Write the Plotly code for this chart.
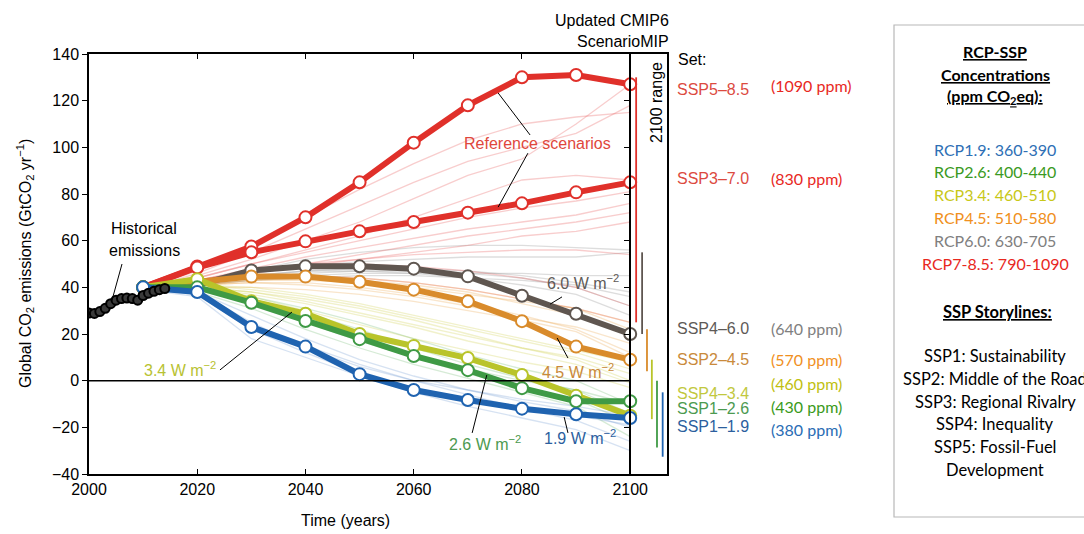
import plotly.graph_objects as go

# ---------------- data ----------------
hist_years = list(range(2000, 2015))
hist_vals = [29.0, 28.8, 29.6, 31.0, 33.0, 34.5, 35.2, 35.4, 35.2, 34.5, 36.5, 37.5, 38.3, 39.0, 39.5]

years = [2010, 2020, 2030, 2040, 2050, 2060, 2070, 2080, 2090, 2100]
ssp585 = [40, 48.9, 57.5, 70, 85, 102, 118, 130, 131, 127]
ssp370 = [40, 48.5, 55, 59.7, 64, 68, 72, 76, 80.7, 85]
ssp460 = [40, 41, 47.2, 49, 49, 48, 44.7, 36.4, 28.7, 20]
ssp245 = [40, 42.5, 44.6, 44.6, 42.4, 39, 34, 25.5, 14.6, 9]
ssp434 = [40, 43.5, 34, 28.7, 20, 14.9, 9.7, 2.4, -6.5, -15]
ssp126 = [40, 40, 33.4, 25.6, 17.8, 10.6, 4.5, -3.2, -8.8, -8.8]
ssp119 = [40, 38, 23, 14.6, 2.8, -4, -8.3, -12, -14.4, -16]

faint_years = [2010, 2020, 2030, 2040, 2050, 2060, 2070, 2080, 2090, 2100]
faint_red = [
    [39, 47, 58, 70, 82, 93, 103, 110, 113, 115],
    [39, 46, 55, 65, 75, 85, 94, 100, 106, 118],
    [39, 45, 52, 60, 68, 78, 88, 95, 110, 127],
    [39, 44, 50, 56, 62, 70, 78, 86, 88, 86],
    [39, 44, 50, 55, 60, 65, 70, 74, 77, 81],
    [39, 43, 48, 53, 57, 61, 65, 68, 71, 76],
    [39, 43, 47, 50, 54, 58, 62, 65, 68, 72],
    [39, 42, 46, 49, 52, 55, 58, 62, 64, 68],
    [39, 43, 47, 50, 52, 54, 55, 56, 56, 54],
    [39, 43, 47, 50, 50, 49, 47, 44, 40, 32],
    [39, 42, 44, 45, 44, 42, 39, 35, 31, 25],
]
faint_gray = [
    [39, 42, 45, 47, 48, 48, 47, 45, 42, 38],
    [39, 41, 44, 46, 47, 47, 46, 44, 40, 32],
    [39, 42, 46, 49, 51, 52, 53, 53, 53, 55],
    [39, 41, 43, 44, 45, 45, 44, 43, 41, 36],
    [39, 42, 45, 47, 47, 46, 44, 41, 37, 28],
    [39, 41, 43, 45, 46, 46, 46, 46, 45, 45],
    [39, 42, 47, 52, 55, 57, 58, 58, 57, 56],
]
faint_orange = [
    [39, 41, 43, 44, 43, 41, 38, 33, 28, 20],
    [39, 41, 42, 42, 40, 37, 33, 28, 22, 12],
    [39, 41, 42, 41, 39, 36, 32, 27, 23, 16],
    [39, 42, 44, 45, 44, 42, 39, 35, 31, 22],
    [39, 40, 40, 39, 37, 34, 30, 26, 21, 10],
    [39, 41, 43, 43, 42, 40, 37, 34, 31, 25],
]
faint_yellow = [
    [39, 40, 38, 34, 29, 24, 19, 14, 10, 3],
    [39, 40, 37, 33, 28, 23, 17, 12, 7, -1],
    [39, 41, 39, 36, 32, 27, 22, 17, 12, 5],
    [39, 40, 36, 30, 24, 18, 13, 8, 4, -3],
    [39, 40, 38, 35, 31, 26, 20, 14, 9, 0],
    [39, 41, 40, 37, 33, 28, 23, 18, 13, 8],
]
faint_green = [
    [39, 39, 34, 27, 19, 11, 5, 0, -4, -10],
    [39, 40, 35, 29, 22, 14, 7, 1, -4, -14],
    [39, 39, 33, 25, 17, 10, 3, -3, -8, -18],
    [39, 40, 36, 31, 25, 18, 11, 5, 0, -10],
    [39, 38, 31, 22, 14, 7, 1, -5, -11, -24],
]
faint_blue = [
    [39, 38, 25, 14, 6, 0, -4, -8, -11, -15],
    [39, 37, 22, 12, 3, -3, -8, -12, -15, -19],
    [39, 38, 28, 18, 9, 2, -4, -9, -13, -20],
    [39, 36, 18, 10, 2, -5, -11, -16, -21, -30],
    [39, 38, 24, 15, 7, 0, -6, -12, -17, -26],
]

# 2100 ranges per family: (x position year, low, high)
range_x = [2101.1, 2102.2, 2103.1, 2104.0, 2104.95, 2106.0]
range_lo = [25, 20, 4, -16.5, -28.6, -32.6]
range_hi = [130, 55, 22, 9, 0, -5]
range_col = ["#e0302a", "#5f5650", "#d98b2b", "#b9c42a", "#3f9a45", "#1f63b0"]

ssp_names = ["SSP5\u20138.5", "SSP3\u20137.0", "SSP4\u20136.0", "SSP2\u20134.5", "SSP4\u20133.4", "SSP1\u20132.6", "SSP1\u20131.9"]
ssp_label_y = [89, 178, 328, 359, 393, 408, 426]
ssp_label_col = ["#dc4a3f", "#dc4a3f", "#5e5a57", "#c98a3b", "#c2c83e", "#4c9a50", "#2c5f9e"]
ppm_labels = ["(1090 ppm)", "(830 ppm)", "(640 ppm)", "(570 ppm)", "(460 ppm)", "(430 ppm)", "(380 ppm)"]
ppm_label_y = [86, 178, 328, 359, 383, 406, 429]
ppm_col = ["#e8281e", "#e8281e", "#808080", "#f0901e", "#c0c010", "#3a9a1a", "#2a6db5"]

rcp_lines = ["RCP1.9: 360-390", "RCP2.6: 400-440", "RCP3.4: 460-510", "RCP4.5: 510-580", "RCP6.0: 630-705", "RCP7-8.5: 790-1090"]
rcp_cols = ["#2e6fb5", "#3a9a22", "#c8c818", "#f09020", "#808080", "#e8281e"]
story_lines = ["SSP1: Sustainability", "SSP2: Middle of the Road", "SSP3: Regional Rivalry",
               "SSP4: Inequality", "SSP5: Fossil-Fuel", "Development"]

# ---------------- geometry helpers ----------------
W, H = 1084, 534
ML, MR, MT, MB = 89, 417, 54, 60
PW, PH = W - ML - MR, H - MT - MB


def px(x):
    return (x - ML) / PW


def py(y):
    return (H - MB - y) / PH


AX = "Liberation Sans, Arial, sans-serif"
CAL = "Lato, Carlito, Calibri, sans-serif"

fig = go.Figure()

faint_sets = [
    (faint_gray, "rgba(150,150,150,0.32)"),
    (faint_red, "rgba(232,100,100,0.32)"),
    (faint_orange, "rgba(235,160,70,0.28)"),
    (faint_yellow, "rgba(205,205,70,0.28)"),
    (faint_green, "rgba(90,175,90,0.25)"),
    (faint_blue, "rgba(90,140,205,0.25)"),
]
for group, col in faint_sets:
    for vals in group:
        fig.add_trace(go.Scatter(x=faint_years, y=vals, mode="lines",
                                 line=dict(color=col, width=1.3), hoverinfo="skip"))

main = [
    (ssp585, "#e0302a"),
    (ssp370, "#e0302a"),
    (ssp460, "#5f5650"),
    (ssp245, "#d98b2b"),
    (ssp434, "#b9c42a"),
    (ssp126, "#3f9a45"),
    (ssp119, "#1f63b0"),
]
for vals, col in main:
    fig.add_trace(go.Scatter(x=years, y=vals, mode="lines+markers",
                             line=dict(color=col, width=6),
                             marker=dict(size=12, color="white", line=dict(color=col, width=2)),
                             hoverinfo="skip"))

fig.add_trace(go.Scatter(x=hist_years, y=hist_vals, mode="lines+markers",
                         line=dict(color="black", width=6),
                         marker=dict(size=9, color="#3a3a3a", line=dict(color="black", width=2)),
                         hoverinfo="skip"))

# dummy trace to activate axis at 2100
fig.add_trace(go.Scatter(x=[2000], y=[0], yaxis="y2", mode="markers",
                         marker=dict(opacity=0), hoverinfo="skip"))

shapes = []
# zero line
shapes.append(dict(type="line", xref="x", yref="y", x0=2000, x1=2100, y0=0, y1=0,
                   line=dict(color="black", width=1.5)))
for xr, lo, hi, c in zip(range_x, range_lo, range_hi, range_col):
    shapes.append(dict(type="line", xref="x", yref="y", x0=xr, x1=xr, y0=lo, y1=hi,
                       line=dict(color=c, width=1.8)))

# callout lines (data coordinates)
callouts = [
    (2075.6, 123.3, 2081.5, 105.3, "black"),
    (2081.1, 97.5, 2075.6, 74.4, "black"),
    (2006.1, 50.0, 2004.25, 34.5, "black"),
    (2087.4, 35.9, 2085.2, 32.8, "black"),
    (2088.5, 9.7, 2086.5, 18.3, "black"),
    (2024.2, 4.6, 2037.5, 29.4, "black"),
    (2070.8, -22.4, 2073.5, 2.4, "black"),
    (2088.5, -22.4, 2087.8, -15.6, "black"),
]
for x0, y0, x1, y1, c in callouts:
    shapes.append(dict(type="line", xref="x", yref="y", x0=x0, y0=y0, x1=x1, y1=y1,
                       line=dict(color=c, width=1)))

# right box
shapes.append(dict(type="rect", xref="paper", yref="paper", x0=px(894), x1=px(1100),
                   y0=py(517), y1=py(25), line=dict(color="#b8b8b8", width=1.2)))

ann = []


def add_text(text, x, y, size=16, color="black", font=AX, xanchor="center", yanchor="middle",
             ref="paper", angle=0):
    if ref == "paper":
        ann.append(dict(text=text, x=px(x), y=py(y), xref="paper", yref="paper", showarrow=False,
                        font=dict(size=size, color=color, family=font), xanchor=xanchor,
                        yanchor=yanchor, textangle=angle))
    else:
        ann.append(dict(text=text, x=x, y=y, xref="x", yref="y", showarrow=False,
                        font=dict(size=size, color=color, family=font), xanchor=xanchor,
                        yanchor=yanchor, textangle=angle))


add_text("Updated CMIP6", 671, 20, size=16, xanchor="right")
add_text("ScenarioMIP", 671, 41, size=16, xanchor="right")
add_text("2100 range", 656, 103, size=16, angle=-90)
add_text("Set:", 676, 60, size=16, xanchor="left")

for name, yy, c in zip(ssp_names, ssp_label_y, ssp_label_col):
    add_text(name, 675, yy, size=16, color=c, xanchor="left")
for name, yy, c in zip(ppm_labels, ppm_label_y, ppm_col):
    add_text(name, 769, yy, size=16, color=c, font=CAL, xanchor="left")

add_text("Reference scenarios", 2082.8, 101.8, size=16, color="#e0473c", ref="data")
add_text("Historical", 144, 229, size=16)
add_text("emissions", 144, 250, size=16)
add_text("6.0 W m<sup>\u22122</sup>", 2091.3, 42.5, size=16, color="#5e5a57", ref="data")
add_text("4.5 W m<sup>\u22122</sup>", 2090.4, 4.3, size=16, color="#c98a3b", ref="data")
add_text("3.4 W m<sup>\u22122</sup>", 2016.8, 5.2, size=16, color="#b8c232", ref="data")
add_text("2.6 W m<sup>\u22122</sup>", 2073.2, -26.9, size=16, color="#4c9a50", ref="data")
add_text("1.9 W m<sup>\u22122</sup>", 2090.7, -24.3, size=16, color="#2c5f9e", ref="data")

add_text("Global CO<sub>2</sub> emissions (GtCO<sub>2</sub> yr<sup>\u22121</sup>)", 25, 264, size=16, angle=-90)
add_text("Time (years)", 345, 520, size=16)

# box texts
add_text("<b><u>RCP-SSP</u></b>", 995, 51, size=16, font=CAL)
add_text("<b><u>Concentrations</u></b>", 995, 74, size=16, font=CAL)
add_text("<b><u>(ppm CO<sub>2</sub>eq):</u></b>", 995, 97, size=16, font=CAL)
for i, (t, c) in enumerate(zip(rcp_lines, rcp_cols)):
    add_text(t, 995, 149 + i * 22.8, size=16, color=c, font=CAL)
add_text("<b><u>SSP Storylines:</u></b>", 997, 312, size=16.5, font=CAL)
for i, t in enumerate(story_lines):
    add_text(t, 995, 356 + i * 22.8, size=16.5, font=CAL)

ticks20 = list(range(-40, 141, 20))
fig.update_layout(
    width=W, height=H,
    margin=dict(l=ML, r=MR, t=MT, b=MB, pad=0),
    paper_bgcolor="white", plot_bgcolor="white",
    showlegend=False,
    shapes=shapes,
    annotations=ann,
    xaxis=dict(range=[2000, 2000 + PW / 5.412], tickvals=[2000, 2020, 2040, 2060, 2080, 2100],
               ticks="inside", ticklen=5, tickcolor="black", showline=True, linecolor="black",
               linewidth=1.5, mirror="ticks", showgrid=False, zeroline=False,
               tickfont=dict(size=16, family=AX, color="black")),
    yaxis=dict(range=[-40, 140], tickvals=ticks20, ticks="outside", ticklen=5, tickcolor="black",
               showline=True, linecolor="black", linewidth=1.5, mirror=True, showgrid=False,
               zeroline=False, tickfont=dict(size=16, family=AX, color="black")),
    yaxis2=dict(range=[-40, 140], tickvals=ticks20, overlaying="y", anchor="free", side="right",
                position=100 * 5.412 / PW, ticks="inside", ticklen=5, tickcolor="black",
                showline=True, linecolor="black", linewidth=1.5, showticklabels=False,
                showgrid=False, zeroline=False),
)

fig.write_html("out.html")
